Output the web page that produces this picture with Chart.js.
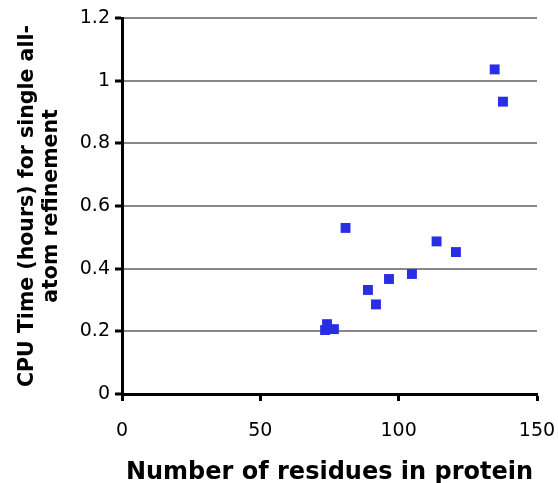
<!DOCTYPE html>
<html>
<head>
<meta charset="utf-8">
<script src="https://cdn.jsdelivr.net/npm/chart.js@4"></script>
<style>
  html, body { margin: 0; padding: 0; background: #fff; }
  .chart-container { width: 558px; height: 483px; }
</style>
</head>
<body>
<div class="chart-container"><canvas id="cpuChart" width="558" height="483"></canvas></div>
<script>
// residues in protein vs CPU hours
const residues = [73.4, 74.1, 76.6, 80.8, 88.9, 91.8, 96.5, 104.8, 113.7, 120.7, 134.7, 137.7];
const cpuHours = [0.204, 0.223, 0.207, 0.53, 0.332, 0.286, 0.367, 0.383, 0.487, 0.453, 1.036, 0.933];
const xTicks = [0, 50, 100, 150];
const yTicks = [0, 0.2, 0.4, 0.6, 0.8, 1, 1.2];

const points = residues.map((r, i) => ({ x: r, y: cpuHours[i] }));

new Chart(document.getElementById('cpuChart'), {
    type: 'scatter',
    data: {
        datasets: [{
            data: points,
            pointStyle: 'rect',
            pointRadius: 7,
            pointHoverRadius: 7,
            backgroundColor: '#2a2ee2',
            borderColor: '#2a2ee2',
            borderWidth: 0
        }]
    },
    options: {
        responsive: false,
        animation: false,
        layout: { padding: { top: 18, right: 0, left: 0, bottom: -4 } },
        plugins: {
            legend: { display: false },
            tooltip: { enabled: false }
        },
        scales: {
            x: {
                type: 'linear',
                min: 0,
                max: 150,
                afterBuildTicks: axis => { axis.ticks = xTicks.map(v => ({ value: v })); },
                afterFit: axis => { axis.height = 93; axis.paddingRight = 21; },
                border: { color: '#000', width: 3 },
                grid: { drawOnChartArea: false, tickLength: 7, tickColor: '#000', tickWidth: 3 },
                ticks: { color: '#000', font: { family: 'DejaVu Sans', size: 19 }, padding: 19 },
                title: {
                    display: true,
                    text: 'Number of residues in protein',
                    color: '#000',
                    font: { family: 'DejaVu Sans', size: 24, weight: 'bold' },
                    padding: { top: 4, bottom: 0 }
                }
            },
            y: {
                type: 'linear',
                min: 0,
                max: 1.2,
                afterBuildTicks: axis => { axis.ticks = yTicks.map(v => ({ value: v })); },
                afterFit: axis => { axis.width = 122; },
                border: { color: '#000', width: 3 },
                grid: { color: '#888', lineWidth: 2, tickLength: 7, tickColor: '#000', tickWidth: 3 },
                ticks: {
                    color: '#000',
                    font: { family: 'DejaVu Sans', size: 19 },
                    padding: 5,
                    callback: v => String(Math.round(v * 10) / 10)
                },
                title: {
                    display: true,
                    text: ['CPU Time (hours) for single all-', 'atom refinement'],
                    color: '#000',
                    font: { family: 'DejaVu Sans', size: 20.5, weight: 'bold' },
                    padding: { top: 15, bottom: 0 }
                }
            }
        }
    }
});
</script>
</body>
</html>
